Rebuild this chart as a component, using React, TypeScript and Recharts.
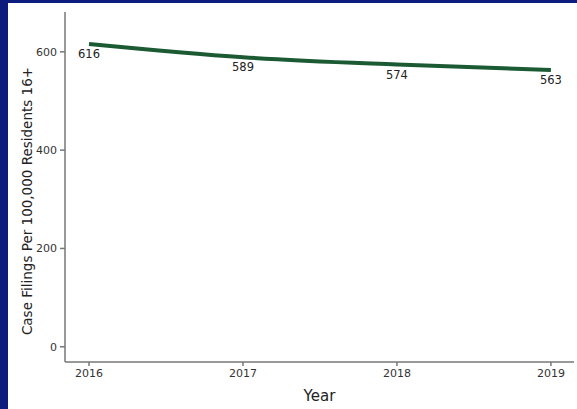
import React from "react";
import { LineChart, Line, XAxis, YAxis, LabelList } from "recharts";

const years = [2016, 2017, 2018, 2019];
const filings = [616, 589, 574, 563];
const yTicks = [0, 200, 400, 600];

const data = years.map((y, i) => ({ year: y, value: filings[i] }));

const FONT = "'DejaVu Sans', Verdana, sans-serif";

const YLabel = (props: any) => {
  const vb = props.viewBox || {};
  const cx = 27;
  const cy = (vb.y ?? 0) + (vb.height ?? 0) / 2 + 14;
  return (
    <text
      x={cx}
      y={cy}
      transform={`rotate(-90, ${cx}, ${cy})`}
      textAnchor="middle"
      dominantBaseline="central"
      fontFamily={FONT}
      fontSize={13.5}
      fill="#222"
    >
      Case Filings Per 100,000 Residents 16+
    </text>
  );
};

export default function App() {
  return (
    <div
      style={{
        position: "fixed",
        left: 0,
        top: 0,
        width: 577,
        height: 409,
        backgroundColor: "#0c1c7c",
        overflow: "hidden",
      }}
    >
      <div
        style={{
          position: "absolute",
          left: 8,
          top: 3,
          width: 569,
          height: 406,
          backgroundColor: "#ffffff",
        }}
      />
      <div style={{ position: "absolute", left: 0, top: 0 }}>
        <LineChart
          width={577}
          height={409}
          data={data}
          margin={{ top: 12, right: 3, left: 0, bottom: 0 }}
        >
          <XAxis
            dataKey="year"
            type="number"
            domain={[2015.844, 2019.15]}
            ticks={years}
            allowDataOverflow
            height={47}
            tickSize={4}
            tickMargin={3}
            stroke="#777"
            strokeWidth={1.5}
            tick={{ fill: "#333", fontSize: 11, fontFamily: FONT }}
            label={{
              value: "Year",
              position: "insideBottom",
              offset: 8,
              fill: "#222",
              fontSize: 15,
              fontFamily: FONT,
            }}
          />
          <YAxis
            type="number"
            domain={[-31, 681]}
            ticks={yTicks}
            allowDataOverflow
            width={65}
            tickSize={5}
            tickMargin={3}
            stroke="#777"
            strokeWidth={1.5}
            tick={{ fill: "#333", fontSize: 11, fontFamily: FONT }}
            label={<YLabel />}
          />
          <Line
            type="monotone"
            dataKey="value"
            stroke="#1b5a33"
            strokeWidth={4}
            dot={false}
            isAnimationActive={false}
          >
            <LabelList
              dataKey="value"
              position="bottom"
              offset={6}
              fill="#222"
              fontSize={11.5}
              fontFamily={FONT}
            />
          </Line>
        </LineChart>
      </div>
    </div>
  );
}
